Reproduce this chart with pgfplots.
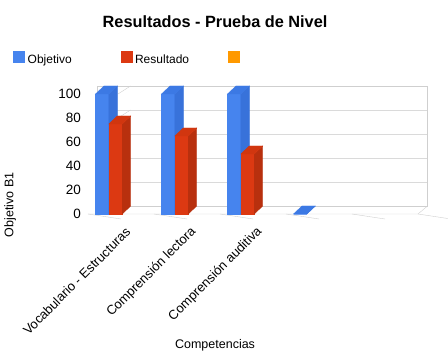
\documentclass[border=0pt]{standalone}
\usepackage{pgfplots}
\pgfplotsset{compat=1.18}
\usepackage{pgfplotstable}
\usepackage{fontspec}
\setmainfont{Liberation Sans}
\definecolor{blueF}{HTML}{4684EE}
\definecolor{blueS}{HTML}{3872DA}
\definecolor{blueT}{HTML}{3C79E4}
\definecolor{redF}{HTML}{DC3912}
\definecolor{redS}{HTML}{B8300E}
\definecolor{redT}{HTML}{D1360F}
\definecolor{orangeF}{HTML}{FF9900}
\definecolor{gridc}{HTML}{DADADA}
\definecolor{framec}{HTML}{CFCFCF}
\pgfdeclareplotmark{nothing}{}

\pgfplotstableread{
idx obj
0 100
1 100
2 100
3 0
}\objdata
\pgfplotstableread{
idx res
0 75
1 65
2 50
}\resdata

% #1 left offset of front face (pt), #2 width (pt), #3 front, #4 side, #5 top colour
\pgfplotsset{
 bar3d/.style n args={5}{%
   only marks, mark=nothing, scatter, forget plot,
   visualization depends on={rawy \as \barval},
   scatter/@pre marker code/.code={%
     \pgfmathsetmacro\hh{\barval*1.2}%
     \fill[#3] (#1pt,0pt) rectangle (#1pt+#2pt,-\hh pt);
     \fill[#4] (#1pt+#2pt,0pt) -- (#1pt+#2pt,-\hh pt) -- (#1pt+#2pt+8.5pt,-\hh pt+8pt) -- (#1pt+#2pt+8.5pt,8pt) -- cycle;
     \fill[#5] (#1pt,0pt) -- (#1pt+#2pt,0pt) -- (#1pt+#2pt+8.5pt,8pt) -- (#1pt+8.5pt,8pt) -- cycle;
   },
   scatter/@post marker code/.code={},
 },
}

\begin{document}
\begin{tikzpicture}
\path[use as bounding box] (0,0) rectangle (448pt,361pt);
% back wall
\begin{axis}[
  at={(97.5pt,155pt)}, anchor=south west,
  x=66pt, y=1.2pt, xmin=-0.5, xmax=4.5, ymin=0, ymax=100,
  axis line style={framec},
  xtick=\empty, ytick={0,20,...,100}, yticklabel=\empty,
  major tick length=0pt, ymajorgrids, grid style={gridc},
  clip=false,
]
\end{axis}
% front
\begin{axis}[
  at={(88pt,147pt)}, anchor=south west,
  x=66pt, y=1.2pt, xmin=-0.5, xmax=4.5, ymin=0, ymax=100,
  clip=false,
  axis line style={draw=none},
  major tick length=0pt,
  ytick={0,20,...,100},
  xtick={0,1,2,3,4},
  xticklabels={Vocabulario - Estructuras, Comprensión lectora, Comprensión auditiva, {}, {}},
  /pgf/number format/assume math mode=true,
  yticklabel style={font=\fontsize{13.5}{15}\selectfont, anchor=east, inner sep=0pt, xshift=-7pt},
  xticklabel style={font=\fontsize{13}{15}\selectfont, rotate=45, anchor=east, inner sep=0pt, xshift=-6pt, yshift=-16pt},
  xlabel={Competencias}, ylabel={Objetivo B1},
  xlabel style={at={(axis description cs:0.385,-1.09)}, anchor=center, font=\fontsize{12.5}{14}\selectfont},
  ylabel style={at={(axis description cs:-0.236,0.075)}, anchor=center, font=\fontsize{12.5}{14}\selectfont},
  title={Resultados - Prueba de Nivel},
  title style={at={(axis description cs:0.385,1.55)}, anchor=center, font=\bfseries\fontsize{16.3}{19}\selectfont},
  legend columns=3,
  legend style={at={(axis description cs:-0.227,1.3)}, anchor=west, draw=none, fill=none, inner sep=0pt,
    font=\fontsize{12}{14}\selectfont, nodes={inner sep=0pt},
    /tikz/every odd column/.append style={column sep=3pt}},
]
% floor and left wall lines
\draw[framec] (axis cs:-0.5,0) -- (axis cs:4.5,0) -- ++(9.5pt,8pt);
\pgfplotsinvokeforeach{0,20,...,100}{
  \draw[framec] (axis cs:-0.5,#1) ++(-3pt,0) -- ++(12.5pt,8pt);
}
\pgfplotsinvokeforeach{-0.5,0.5,...,4.5}{
  \draw[framec] (axis cs:#1,0) -- ++(0,-5pt);
}
% bars (front face, side and top drawn at each data point, in series order)
\addplot[bar3d={-25.5}{13.3}{blueF}{blueS}{blueT}] table[x=idx,y=obj]{\objdata};
\addplot[bar3d={-12.2}{13.4}{redF}{redS}{redT}] table[x=idx,y=res]{\resdata};
% legend
\addlegendimage{legend image code/.code={\fill[blueF] (0pt,-1.5pt) rectangle (11pt,9.5pt);}}
\addlegendentry{\makebox[93pt][l]{Objetivo}}
\addlegendimage{legend image code/.code={\fill[redF] (0pt,-1.5pt) rectangle (11pt,9.5pt);}}
\addlegendentry{\makebox[93pt][l]{Resultado}}
\addlegendimage{legend image code/.code={\fill[orangeF] (0pt,-1.5pt) rectangle (11pt,9.5pt);}}
\addlegendentry{}
\end{axis}
\end{tikzpicture}
\end{document}
